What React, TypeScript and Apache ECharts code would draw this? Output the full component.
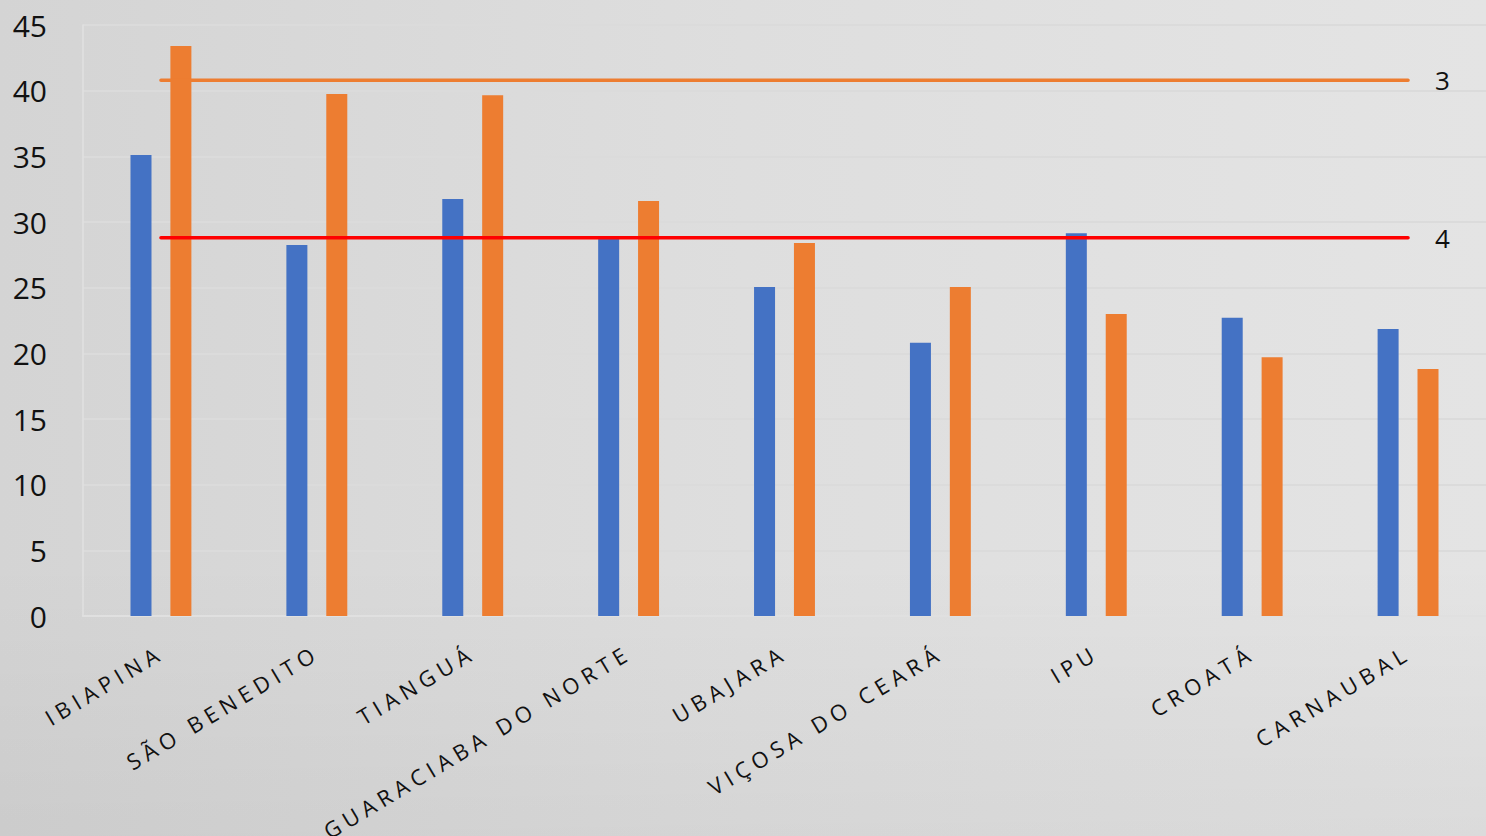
import React, { useEffect, useRef } from "react";
import * as echarts from "echarts";

const categories = [
  "IBIAPINA",
  "SÃO BENEDITO",
  "TIANGUÁ",
  "GUARACIABA DO NORTE",
  "UBAJARA",
  "VIÇOSA DO CEARÁ",
  "IPU",
  "CROATÁ",
  "CARNAUBAL",
];
const seriesBlue = [35.1, 28.25, 31.75, 28.8, 25.05, 20.8, 29.15, 22.7, 21.85];
const seriesOrange = [43.4, 39.75, 39.65, 31.6, 28.4, 25.05, 23.0, 19.7, 18.8];
const line3 = [40.8, 40.8, 40.8, 40.8, 40.8, 40.8, 40.8, 40.8, 40.8];
const line4 = [28.8, 28.8, 28.8, 28.8, 28.8, 28.8, 28.8, 28.8, 28.8];
const yTicks = [0, 5, 10, 15, 20, 25, 30, 35, 40, 45];

export default function App() {
  const ref = useRef<HTMLDivElement>(null);
  useEffect(() => {
    document.body.style.margin = "0";
    const el = ref.current!;
    const chart = echarts.init(el, null, { renderer: "svg" });
    const spaceLabels = () => {
      el.querySelectorAll("text").forEach((t) => {
        if (categories.indexOf((t.textContent || "").trim()) >= 0) {
          (t as SVGTextElement).style.letterSpacing = "5.4px";
        }
      });
    };
    chart.on("finished", spaceLabels);
    chart.setOption({
      animation: false,
      backgroundColor: {
        type: "linear",
        x: 0,
        y: 0,
        x2: 1,
        y2: 0,
        colorStops: [
          { offset: 0, color: "#d4d4d4" },
          { offset: 0.5, color: "#dedede" },
          { offset: 1, color: "#e4e4e4" },
        ],
      },
      graphic: [
        {
          type: "rect",
          left: 0,
          top: 560,
          shape: { width: 1486, height: 276 },
          silent: true,
          z: -10,
          style: {
            fill: {
              type: "linear",
              x: 0,
              y: 0,
              x2: 0,
              y2: 1,
              colorStops: [
                { offset: 0, color: "rgba(0,0,0,0)" },
                { offset: 1, color: "rgba(0,0,0,0.04)" },
              ],
            },
          },
        },
      ],
      grid: { left: 83, right: -4, top: 25, bottom: 220, containLabel: false },
      xAxis: {
        type: "category",
        data: categories,
        axisLine: { show: true, lineStyle: { color: "#e0e0e0", width: 2 } },
        axisTick: { show: false },
        axisLabel: {
          rotate: 31,
          interval: 0,
          margin: 34,
          fontFamily: "Open Sans",
          fontSize: 22,
          color: "#111",
        },
      },
      yAxis: {
        type: "value",
        min: yTicks[0],
        max: yTicks[yTicks.length - 1],
        interval: 5,
        axisLine: { show: true, lineStyle: { color: "#e0e0e0", width: 1.5 } },
        axisTick: { show: false },
        splitLine: { lineStyle: { color: "#dbdbdb", width: 2 } },
        axisLabel: {
          margin: 36,
          fontFamily: "Open Sans",
          fontSize: 30,
          color: "#111",
        },
      },
      series: [
        {
          name: "1",
          type: "bar",
          data: seriesBlue,
          barWidth: 21,
          barGap: "90%",
          itemStyle: { color: "#4472C4" },
          z: 2,
        },
        {
          name: "2",
          type: "bar",
          data: seriesOrange,
          barWidth: 21,
          barGap: "90%",
          itemStyle: { color: "#ED7D31" },
          z: 2,
        },
        {
          name: "3",
          type: "line",
          data: line3,
          symbol: "none",
          lineStyle: { color: "#ED7D31", width: 3.5, cap: "round" },
          z: 5,
          endLabel: {
            show: true,
            formatter: "3",
            distance: 27,
            fontFamily: "Open Sans",
            fontSize: 26,
            color: "#111",
          },
        },
        {
          name: "4",
          type: "line",
          data: line4,
          symbol: "none",
          lineStyle: { color: "#FF0000", width: 3.5, cap: "round" },
          z: 5,
          endLabel: {
            show: true,
            formatter: "4",
            distance: 27,
            fontFamily: "Open Sans",
            fontSize: 26,
            color: "#111",
          },
        },
      ],
    });
    spaceLabels();
    const timer = setTimeout(spaceLabels, 50);
    return () => {
      clearTimeout(timer);
      chart.dispose();
    };
  }, []);
  return <div ref={ref} style={{ width: 1486, height: 836 }} />;
}
